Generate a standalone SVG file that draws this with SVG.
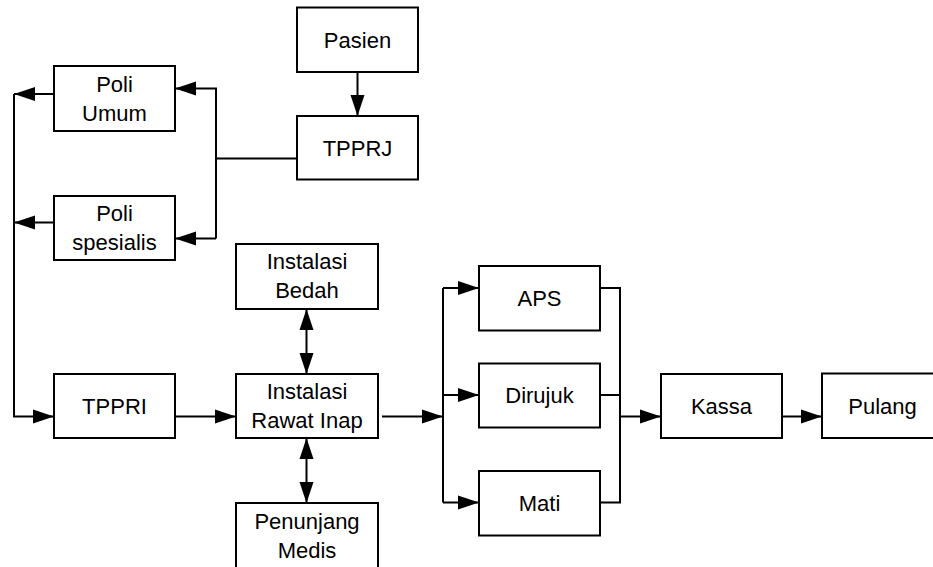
<svg xmlns="http://www.w3.org/2000/svg" width="933" height="567" viewBox="0 0 933 567">
<style>
.box{fill:#fff;stroke:#000;stroke-width:2}
.ln{fill:none;stroke:#000;stroke-width:2}
.t{font-family:"Liberation Sans",Arial,sans-serif;font-size:22px;text-anchor:middle;fill:#000}
</style>
<defs>
<marker id="ah" markerUnits="userSpaceOnUse" markerWidth="22" markerHeight="16" refX="21" refY="7" orient="auto-start-reverse" viewBox="0 0 22 14">
<path d="M0,0 L21,7 L0,14 z" fill="#000"/>
</marker>
</defs>
<rect width="933" height="567" fill="#fff"/>
<g id="connectors">
<path class="ln" d="M357.5,72 V116" marker-end="url(#ah)"/>
<path class="ln" d="M297,158.5 H216"/>
<path class="ln" d="M216,238.5 V88.5 H175" marker-end="url(#ah)"/>
<path class="ln" d="M216,238.5 H175" marker-end="url(#ah)"/>
<path class="ln" d="M54,94 H14" marker-end="url(#ah)"/>
<path class="ln" d="M54,222.5 H14" marker-end="url(#ah)"/>
<path class="ln" d="M14,94 V416.5 H54" marker-end="url(#ah)"/>
<path class="ln" d="M175,416.5 H236" marker-end="url(#ah)"/>
<path class="ln" d="M306.5,309 V374" marker-start="url(#ah)" marker-end="url(#ah)"/>
<path class="ln" d="M306.5,438 V503" marker-start="url(#ah)" marker-end="url(#ah)"/>
<path class="ln" d="M382,416.5 H443" marker-end="url(#ah)"/>
<path class="ln" d="M443,288 V502.5"/>
<path class="ln" d="M443,288 H479" marker-end="url(#ah)"/>
<path class="ln" d="M443,395 H479" marker-end="url(#ah)"/>
<path class="ln" d="M443,502.5 H479" marker-end="url(#ah)"/>
<path class="ln" d="M600,288 H620 V502.5 H600"/>
<path class="ln" d="M600,395 H620"/>
<path class="ln" d="M620,416.5 H661" marker-end="url(#ah)"/>
<path class="ln" d="M782,416.5 H822" marker-end="url(#ah)"/>
</g>
<g id="pasien"><rect class="box" x="297" y="7.5" width="121" height="64.5"/><text class="t" x="357.5" y="47.5">Pasien</text></g>
<g id="tpprj"><rect class="box" x="297" y="116" width="121" height="63.5"/><text class="t" x="357.5" y="155.5">TPPRJ</text></g>
<g id="poli-umum"><rect class="box" x="54" y="66" width="121" height="65"/><text class="t" x="114.5" y="91.5">Poli</text><text class="t" x="114.5" y="120.5">Umum</text></g>
<g id="poli-spesialis"><rect class="box" x="54" y="196" width="121" height="64"/><text class="t" x="114.5" y="221">Poli</text><text class="t" x="114.5" y="250">spesialis</text></g>
<g id="instalasi-bedah"><rect class="box" x="236" y="244" width="142" height="65"/><text class="t" x="307" y="268.5">Instalasi</text><text class="t" x="307" y="297.5">Bedah</text></g>
<g id="tppri"><rect class="box" x="54" y="374" width="121" height="64"/><text class="t" x="114.5" y="414">TPPRI</text></g>
<g id="instalasi-rawat-inap"><rect class="box" x="236" y="374" width="142" height="64"/><text class="t" x="307" y="398.5">Instalasi</text><text class="t" x="307" y="427.5">Rawat Inap</text></g>
<g id="penunjang-medis"><rect class="box" x="236" y="503" width="142" height="80"/><text class="t" x="307" y="529">Penunjang</text><text class="t" x="307" y="557.5">Medis</text></g>
<g id="aps"><rect class="box" x="479" y="266" width="121" height="64.5"/><text class="t" x="539.5" y="306">APS</text></g>
<g id="dirujuk"><rect class="box" x="479" y="363.5" width="121" height="64"/><text class="t" x="539.5" y="403">Dirujuk</text></g>
<g id="mati"><rect class="box" x="479" y="471" width="121" height="64.5"/><text class="t" x="539.5" y="511">Mati</text></g>
<g id="kassa"><rect class="box" x="661" y="374" width="121" height="64"/><text class="t" x="721.5" y="414">Kassa</text></g>
<g id="pulang"><rect class="box" x="822" y="373.5" width="121" height="64.5"/><text class="t" x="882.5" y="413.5">Pulang</text></g>
</svg>
